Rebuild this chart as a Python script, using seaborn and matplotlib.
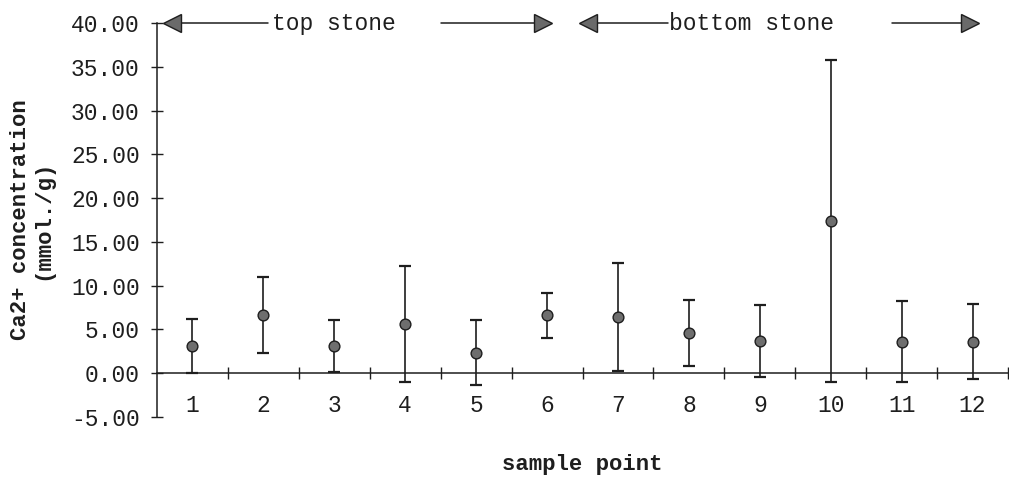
import matplotlib
matplotlib.use("Agg")
import matplotlib.pyplot as plt
import seaborn as sns
import pandas as pd
import numpy as np

# ---- data ----
sample_points = [1, 2, 3, 4, 5, 6, 7, 8, 9, 10, 11, 12]
ca_mean = [3.1, 6.65, 3.1, 5.6, 2.35, 6.6, 6.4, 4.6, 3.65, 17.4, 3.6, 3.6]
ca_sd = [3.05, 4.3, 3.0, 6.65, 3.75, 2.6, 6.15, 3.8, 4.1, 18.4, 4.65, 4.3]
y_ticks = [-5, 0, 5, 10, 15, 20, 25, 30, 35, 40]
region_labels = ["top stone", "bottom stone"]

df = pd.DataFrame({"sample point": sample_points, "mean": ca_mean, "sd": ca_sd})

sns.set_theme(style="white")
mono = ["Liberation Mono", "DejaVu Sans Mono"]
plt.rcParams["font.family"] = mono
ink = "#1e1e1e"

fig = plt.figure(figsize=(10.09, 4.79), dpi=100)
ax = fig.add_axes([157 / 1009, 62 / 479, 851 / 1009, 394 / 479])

ax.errorbar(df["sample point"], df["mean"], yerr=df["sd"], fmt="none",
            ecolor=ink, elinewidth=1.2, capsize=4.5, capthick=1.6, zorder=2)
sns.scatterplot(data=df, x="sample point", y="mean", ax=ax, s=60,
                color="#6e6e6e", edgecolor=ink, linewidth=1.0, zorder=3)

ax.set_xlim(0.5, 12.4)
ax.set_ylim(-5, 40)

# spines
for s in ["top", "right"]:
    ax.spines[s].set_visible(False)
ax.spines["bottom"].set_position(("data", 0))
ax.spines["left"].set_bounds(-5, 40)
for s in ["bottom", "left"]:
    ax.spines[s].set_color(ink)
    ax.spines[s].set_linewidth(1.1)

# y ticks
ax.set_yticks(y_ticks)
ax.set_yticklabels([f"{v:.2f}" for v in y_ticks])
ax.tick_params(axis="y", direction="inout", length=9, width=1.0, color=ink,
               labelsize=16.5, labelcolor=ink, pad=8, left=True)

# x ticks: marks at boundaries, labels at centres
ax.set_xticks([p + 0.5 for p in sample_points])
ax.set_xticklabels([])
ax.set_xticks(sample_points, minor=True)
ax.set_xticklabels([str(p) for p in sample_points], minor=True)
ax.tick_params(axis="x", which="major", direction="inout", length=8, width=1.0,
               color=ink, bottom=True)
ax.tick_params(axis="x", which="minor", length=0, labelsize=16.5,
               labelcolor=ink, pad=15, bottom=True)

ax.set_xlabel("sample point", fontsize=16, fontweight="bold", color=ink,
              labelpad=0)
ax.xaxis.set_label_coords(0.5, -0.095)
ax.set_ylabel("Ca2+ concentration\n(mmol./g)", fontsize=16,
              fontweight="bold", color=ink, linespacing=1.1)
ax.yaxis.set_label_coords(-0.122, 0.5)

# region arrows
arrow_y = 40
head_fc = "#6a6a6a"
def region(x_tip_l, x_line1, x_line2, x_text, x_line3, x_line4, x_tip_r, label):
    ax.plot([x_line1, x_line2], [arrow_y] * 2, color=ink, lw=1.1, clip_on=False)
    ax.plot([x_line3, x_line4], [arrow_y] * 2, color=ink, lw=1.1, clip_on=False)
    ax.plot([x_tip_l + 0.13], [arrow_y], marker="<", ms=13, mfc=head_fc,
            mec=ink, mew=1.0, clip_on=False, zorder=4)
    ax.plot([x_tip_r - 0.13], [arrow_y], marker=">", ms=13, mfc=head_fc,
            mec=ink, mew=1.0, clip_on=False, zorder=4)
    ax.text(x_text, arrow_y, label, ha="center", va="center", fontsize=16.5,
            color=ink)

region(0.576, 0.8, 2.06, 3.0, 4.51, 5.9, 6.08, region_labels[0])
region(6.45, 6.65, 7.71, 8.88, 10.87, 11.9, 12.10, region_labels[1])

fig.savefig("out.png", dpi=100, facecolor="white")
